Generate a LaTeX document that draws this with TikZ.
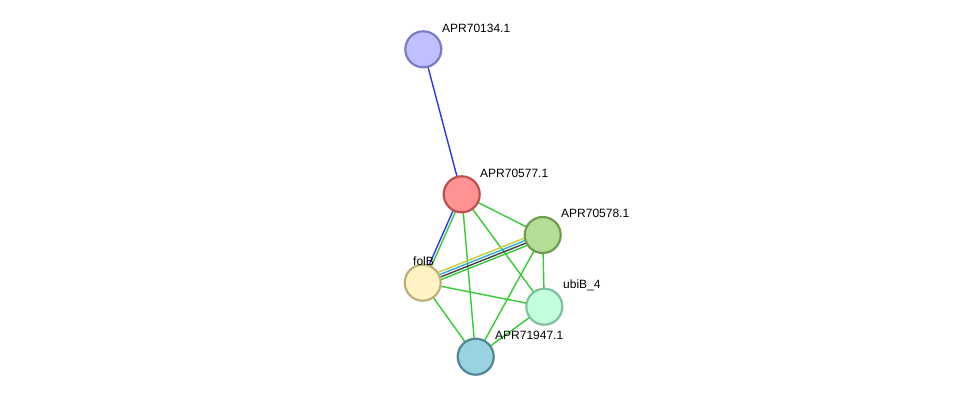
\documentclass[tikz,border=0pt]{standalone}
\usepackage{fontspec}
\setmainfont{Liberation Sans}
\usetikzlibrary{calc,backgrounds}
\begin{document}
\begin{tikzpicture}[x=1pt,y=-1pt,
  prot/.style={circle,line width=2.2pt,minimum size=36pt,inner sep=0pt},
  lbl/.style={anchor=west,inner sep=0pt,font=\fontsize{12}{14}\selectfont},
  ed/.style={line width=1.4pt}]
\definecolor{eg}{HTML}{33CC33}
\definecolor{eb}{HTML}{3333EE}
\definecolor{ey}{HTML}{CCCC33}
\definecolor{ec}{HTML}{33AADD}
\definecolor{ek}{HTML}{444444}
\useasboundingbox (0,0) rectangle (975,402);
\node[prot,fill={rgb,255:red,192;green,192;blue,255},draw={rgb,255:red,124;green,124;blue,196}] (n134) at (423.3,49.3) {};
\node[prot,fill={rgb,255:red,255;green,146;blue,146},draw={rgb,255:red,192;green,80;blue,80}] (n577) at (461.7,194.3) {};
\node[prot,fill={rgb,255:red,180;green,222;blue,152},draw={rgb,255:red,112;green,156;blue,80}] (n578) at (542.7,235) {};
\node[prot,fill={rgb,255:red,255;green,243;blue,196},draw={rgb,255:red,190;green,176;blue,124}] (folB) at (422.7,282.7) {};
\node[prot,fill={rgb,255:red,196;green,255;blue,221},draw={rgb,255:red,128;green,192;blue,156}] (ubiB) at (544.3,306.7) {};
\node[prot,fill={rgb,255:red,154;green,211;blue,224},draw={rgb,255:red,80;green,134;blue,150}] (n947) at (475.7,356.7) {};
\node[lbl] (l134) at (442,28) {APR70134.1};
\node[lbl] (l577) at (480,173) {APR70577.1};
\node[lbl] (l578) at (561,213) {APR70578.1};
\node[lbl] (lfolB) at (413,261) {folB};
\node[lbl] (lubiB) at (563,285) {ubiB\_4};
\node[lbl] (l947) at (495,335) {APR71947.1};
\begin{scope}[on background layer]
\fill[white] (0,0) rectangle (975,402);
\draw[ed,eb] (n134.center) -- (n577.center);
\draw[ed,eb] ($(n577.center)!1.3pt!-90:(folB.center)$) -- ($(folB.center)!1.3pt!90:(n577.center)$);
\draw[ed,eg] ($(n577.center)!1.3pt!90:(folB.center)$) -- ($(folB.center)!1.3pt!-90:(n577.center)$);
\draw[ed,eg] (n577.center) -- (n578.center);
\draw[ed,eg] (n577.center) -- (ubiB.center);
\draw[ed,eg] (n577.center) -- (n947.center);
\draw[ed,ey] ($(folB.center)!3.9pt!90:(n578.center)$) -- ($(n578.center)!3.9pt!-90:(folB.center)$);
\draw[ed,ec] ($(folB.center)!1.3pt!90:(n578.center)$) -- ($(n578.center)!1.3pt!-90:(folB.center)$);
\draw[ed,ek] ($(folB.center)!1.3pt!-90:(n578.center)$) -- ($(n578.center)!1.3pt!90:(folB.center)$);
\draw[ed,eg] ($(folB.center)!3.9pt!-90:(n578.center)$) -- ($(n578.center)!3.9pt!90:(folB.center)$);
\draw[ed,eg] (n578.center) -- (ubiB.center);
\draw[ed,eg] (n578.center) -- (n947.center);
\draw[ed,eg] (folB.center) -- (ubiB.center);
\draw[ed,eg] (folB.center) -- (n947.center);
\draw[ed,eg] (ubiB.center) -- (n947.center);
\end{scope}
\end{tikzpicture}
\end{document}
